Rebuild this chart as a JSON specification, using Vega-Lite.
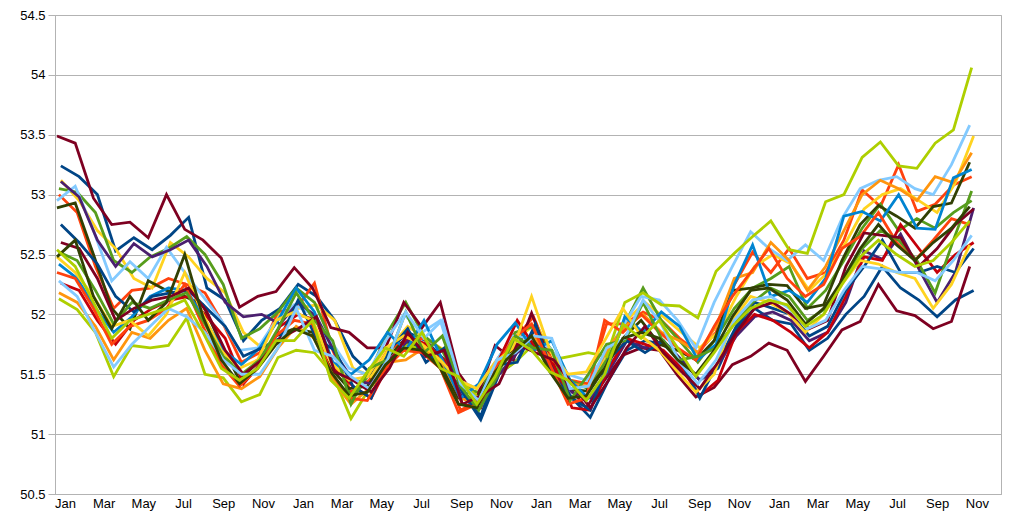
{
  "$schema": "https://vega.github.io/schema/vega-lite/v6.json",
  "width": 946,
  "height": 479,
  "autosize": {"type": "none"},
  "padding": {"left": 55, "top": 15, "right": 24, "bottom": 31},
  "background": "white",
  "config": {"view": {"stroke": "#b3b3b3", "strokeWidth": 1}, "font": "Liberation Sans"},
  "data": {"values": [
{"s":"s01","t":9,"v":53.24},{"s":"s01","t":37,"v":53.15},{"s":"s01","t":65,"v":53.00},{"s":"s01","t":93,"v":52.53},{"s":"s01","t":121,"v":52.64},{"s":"s01","t":149,"v":52.54},{"s":"s01","t":177,"v":52.66},{"s":"s01","t":205,"v":52.81},{"s":"s01","t":233,"v":52.22},{"s":"s01","t":261,"v":52.12},{"s":"s01","t":289,"v":51.78},{"s":"s01","t":317,"v":51.95},{"s":"s01","t":345,"v":52.05},{"s":"s01","t":373,"v":52.25},{"s":"s01","t":401,"v":52.15},{"s":"s01","t":429,"v":51.95},{"s":"s01","t":457,"v":51.65},{"s":"s01","t":485,"v":51.50},{"s":"s01","t":513,"v":51.70},{"s":"s01","t":541,"v":51.85},{"s":"s01","t":569,"v":51.78},{"s":"s01","t":597,"v":51.62},{"s":"s01","t":625,"v":51.35},{"s":"s01","t":653,"v":51.12},{"s":"s01","t":681,"v":51.50},{"s":"s01","t":709,"v":51.62},{"s":"s01","t":737,"v":51.88},{"s":"s01","t":765,"v":51.55},{"s":"s01","t":793,"v":51.30},{"s":"s01","t":821,"v":51.14},{"s":"s01","t":849,"v":51.45},{"s":"s01","t":877,"v":51.70},{"s":"s01","t":905,"v":51.78},{"s":"s01","t":933,"v":51.75},{"s":"s01","t":961,"v":51.62},{"s":"s01","t":989,"v":51.45},{"s":"s01","t":1017,"v":51.55},{"s":"s01","t":1045,"v":51.88},{"s":"s01","t":1073,"v":52.05},{"s":"s01","t":1101,"v":51.95},{"s":"s01","t":1129,"v":51.92},{"s":"s01","t":1157,"v":51.70},{"s":"s01","t":1185,"v":51.80},{"s":"s01","t":1213,"v":52.00},{"s":"s01","t":1241,"v":52.15},{"s":"s01","t":1269,"v":52.40},{"s":"s01","t":1297,"v":52.22},{"s":"s01","t":1325,"v":52.12},{"s":"s01","t":1353,"v":51.98},{"s":"s01","t":1381,"v":52.12},{"s":"s01","t":1409,"v":52.20},
{"s":"s02","t":6,"v":53.00},{"s":"s02","t":34,"v":52.85},{"s":"s02","t":62,"v":52.40},{"s":"s02","t":90,"v":52.05},{"s":"s02","t":118,"v":52.20},{"s":"s02","t":146,"v":52.22},{"s":"s02","t":174,"v":52.30},{"s":"s02","t":202,"v":52.25},{"s":"s02","t":230,"v":52.18},{"s":"s02","t":258,"v":51.92},{"s":"s02","t":286,"v":51.60},{"s":"s02","t":314,"v":51.68},{"s":"s02","t":342,"v":52.02},{"s":"s02","t":370,"v":52.05},{"s":"s02","t":398,"v":52.26},{"s":"s02","t":426,"v":51.70},{"s":"s02","t":454,"v":51.35},{"s":"s02","t":482,"v":51.45},{"s":"s02","t":510,"v":51.70},{"s":"s02","t":538,"v":51.78},{"s":"s02","t":566,"v":51.80},{"s":"s02","t":594,"v":51.60},{"s":"s02","t":622,"v":51.20},{"s":"s02","t":650,"v":51.28},{"s":"s02","t":678,"v":51.62},{"s":"s02","t":706,"v":51.80},{"s":"s02","t":734,"v":51.98},{"s":"s02","t":762,"v":51.62},{"s":"s02","t":790,"v":51.45},{"s":"s02","t":818,"v":51.42},{"s":"s02","t":846,"v":51.92},{"s":"s02","t":874,"v":51.92},{"s":"s02","t":902,"v":52.02},{"s":"s02","t":930,"v":51.95},{"s":"s02","t":958,"v":51.80},{"s":"s02","t":986,"v":51.68},{"s":"s02","t":1014,"v":51.85},{"s":"s02","t":1042,"v":52.25},{"s":"s02","t":1070,"v":52.52},{"s":"s02","t":1098,"v":52.35},{"s":"s02","t":1126,"v":52.55},{"s":"s02","t":1154,"v":52.30},{"s":"s02","t":1182,"v":52.35},{"s":"s02","t":1210,"v":52.62},{"s":"s02","t":1238,"v":53.04},{"s":"s02","t":1266,"v":52.90},{"s":"s02","t":1294,"v":53.25},{"s":"s02","t":1322,"v":52.86},{"s":"s02","t":1350,"v":52.92},{"s":"s02","t":1378,"v":53.08},{"s":"s02","t":1406,"v":53.15},
{"s":"s03","t":9,"v":53.12},{"s":"s03","t":37,"v":52.95},{"s":"s03","t":65,"v":52.70},{"s":"s03","t":93,"v":52.55},{"s":"s03","t":121,"v":52.30},{"s":"s03","t":149,"v":52.22},{"s":"s03","t":177,"v":52.60},{"s":"s03","t":205,"v":52.48},{"s":"s03","t":233,"v":52.30},{"s":"s03","t":261,"v":52.18},{"s":"s03","t":289,"v":51.85},{"s":"s03","t":317,"v":51.72},{"s":"s03","t":345,"v":52.00},{"s":"s03","t":373,"v":52.05},{"s":"s03","t":401,"v":52.08},{"s":"s03","t":429,"v":51.95},{"s":"s03","t":457,"v":51.55},{"s":"s03","t":485,"v":51.48},{"s":"s03","t":513,"v":51.72},{"s":"s03","t":541,"v":51.90},{"s":"s03","t":569,"v":51.80},{"s":"s03","t":597,"v":51.70},{"s":"s03","t":625,"v":51.40},{"s":"s03","t":653,"v":51.32},{"s":"s03","t":681,"v":51.60},{"s":"s03","t":709,"v":51.80},{"s":"s03","t":737,"v":51.92},{"s":"s03","t":765,"v":51.65},{"s":"s03","t":793,"v":51.42},{"s":"s03","t":821,"v":51.38},{"s":"s03","t":849,"v":51.70},{"s":"s03","t":877,"v":51.95},{"s":"s03","t":905,"v":52.10},{"s":"s03","t":933,"v":51.98},{"s":"s03","t":961,"v":51.85},{"s":"s03","t":989,"v":51.72},{"s":"s03","t":1017,"v":51.85},{"s":"s03","t":1045,"v":52.15},{"s":"s03","t":1073,"v":52.40},{"s":"s03","t":1101,"v":52.50},{"s":"s03","t":1129,"v":52.42},{"s":"s03","t":1157,"v":52.20},{"s":"s03","t":1185,"v":52.35},{"s":"s03","t":1213,"v":52.60},{"s":"s03","t":1241,"v":52.88},{"s":"s03","t":1269,"v":53.00},{"s":"s03","t":1297,"v":53.05},{"s":"s03","t":1325,"v":52.95},{"s":"s03","t":1353,"v":52.85},{"s":"s03","t":1381,"v":53.10},{"s":"s03","t":1409,"v":53.49},
{"s":"s04","t":6,"v":53.05},{"s":"s04","t":34,"v":53.02},{"s":"s04","t":62,"v":52.85},{"s":"s04","t":90,"v":52.45},{"s":"s04","t":118,"v":52.35},{"s":"s04","t":146,"v":52.48},{"s":"s04","t":174,"v":52.55},{"s":"s04","t":202,"v":52.65},{"s":"s04","t":230,"v":52.50},{"s":"s04","t":258,"v":52.25},{"s":"s04","t":286,"v":51.80},{"s":"s04","t":314,"v":51.88},{"s":"s04","t":342,"v":52.02},{"s":"s04","t":370,"v":52.22},{"s":"s04","t":398,"v":52.10},{"s":"s04","t":426,"v":51.75},{"s":"s04","t":454,"v":51.30},{"s":"s04","t":482,"v":51.50},{"s":"s04","t":510,"v":51.85},{"s":"s04","t":538,"v":52.10},{"s":"s04","t":566,"v":51.82},{"s":"s04","t":594,"v":51.70},{"s":"s04","t":622,"v":51.38},{"s":"s04","t":650,"v":51.35},{"s":"s04","t":678,"v":51.62},{"s":"s04","t":706,"v":51.85},{"s":"s04","t":734,"v":51.90},{"s":"s04","t":762,"v":51.70},{"s":"s04","t":790,"v":51.45},{"s":"s04","t":818,"v":51.38},{"s":"s04","t":846,"v":51.62},{"s":"s04","t":874,"v":51.92},{"s":"s04","t":902,"v":52.22},{"s":"s04","t":930,"v":51.95},{"s":"s04","t":958,"v":51.78},{"s":"s04","t":986,"v":51.60},{"s":"s04","t":1014,"v":51.80},{"s":"s04","t":1042,"v":52.05},{"s":"s04","t":1070,"v":52.22},{"s":"s04","t":1098,"v":52.30},{"s":"s04","t":1126,"v":52.40},{"s":"s04","t":1154,"v":52.05},{"s":"s04","t":1182,"v":52.20},{"s":"s04","t":1210,"v":52.45},{"s":"s04","t":1238,"v":52.72},{"s":"s04","t":1266,"v":52.92},{"s":"s04","t":1294,"v":52.70},{"s":"s04","t":1322,"v":52.80},{"s":"s04","t":1350,"v":52.72},{"s":"s04","t":1378,"v":52.85},{"s":"s04","t":1406,"v":52.95},
{"s":"s05","t":3,"v":53.49},{"s":"s05","t":31,"v":53.43},{"s":"s05","t":59,"v":52.97},{"s":"s05","t":87,"v":52.75},{"s":"s05","t":115,"v":52.77},{"s":"s05","t":143,"v":52.64},{"s":"s05","t":171,"v":53.00},{"s":"s05","t":199,"v":52.71},{"s":"s05","t":227,"v":52.62},{"s":"s05","t":255,"v":52.47},{"s":"s05","t":283,"v":52.06},{"s":"s05","t":311,"v":52.15},{"s":"s05","t":339,"v":52.19},{"s":"s05","t":367,"v":52.39},{"s":"s05","t":395,"v":52.22},{"s":"s05","t":423,"v":51.89},{"s":"s05","t":451,"v":51.85},{"s":"s05","t":479,"v":51.72},{"s":"s05","t":507,"v":51.72},{"s":"s05","t":535,"v":52.10},{"s":"s05","t":563,"v":51.89},{"s":"s05","t":591,"v":52.10},{"s":"s05","t":619,"v":51.51},{"s":"s05","t":647,"v":51.30},{"s":"s05","t":675,"v":51.74},{"s":"s05","t":703,"v":51.62},{"s":"s05","t":731,"v":52.01},{"s":"s05","t":759,"v":51.62},{"s":"s05","t":787,"v":51.40},{"s":"s05","t":815,"v":51.22},{"s":"s05","t":843,"v":51.45},{"s":"s05","t":871,"v":51.66},{"s":"s05","t":899,"v":51.72},{"s":"s05","t":927,"v":51.70},{"s":"s05","t":955,"v":51.49},{"s":"s05","t":983,"v":51.31},{"s":"s05","t":1011,"v":51.39},{"s":"s05","t":1039,"v":51.58},{"s":"s05","t":1067,"v":51.65},{"s":"s05","t":1095,"v":51.76},{"s":"s05","t":1123,"v":51.70},{"s":"s05","t":1151,"v":51.44},{"s":"s05","t":1179,"v":51.65},{"s":"s05","t":1207,"v":51.87},{"s":"s05","t":1235,"v":51.94},{"s":"s05","t":1263,"v":52.25},{"s":"s05","t":1291,"v":52.03},{"s":"s05","t":1319,"v":51.99},{"s":"s05","t":1347,"v":51.88},{"s":"s05","t":1375,"v":51.94},{"s":"s05","t":1403,"v":52.40},
{"s":"s06","t":3,"v":52.95},{"s":"s06","t":31,"v":53.07},{"s":"s06","t":59,"v":52.70},{"s":"s06","t":87,"v":52.28},{"s":"s06","t":115,"v":52.44},{"s":"s06","t":143,"v":52.30},{"s":"s06","t":171,"v":52.56},{"s":"s06","t":199,"v":52.35},{"s":"s06","t":227,"v":52.15},{"s":"s06","t":255,"v":51.95},{"s":"s06","t":283,"v":51.70},{"s":"s06","t":311,"v":51.72},{"s":"s06","t":339,"v":51.95},{"s":"s06","t":367,"v":52.08},{"s":"s06","t":395,"v":52.00},{"s":"s06","t":423,"v":51.78},{"s":"s06","t":451,"v":51.55},{"s":"s06","t":479,"v":51.50},{"s":"s06","t":507,"v":51.78},{"s":"s06","t":535,"v":52.00},{"s":"s06","t":563,"v":51.85},{"s":"s06","t":591,"v":51.95},{"s":"s06","t":619,"v":51.45},{"s":"s06","t":647,"v":51.38},{"s":"s06","t":675,"v":51.60},{"s":"s06","t":703,"v":51.82},{"s":"s06","t":731,"v":51.80},{"s":"s06","t":759,"v":51.72},{"s":"s06","t":787,"v":51.50},{"s":"s06","t":815,"v":51.45},{"s":"s06","t":843,"v":51.65},{"s":"s06","t":871,"v":51.90},{"s":"s06","t":899,"v":52.15},{"s":"s06","t":927,"v":52.12},{"s":"s06","t":955,"v":51.95},{"s":"s06","t":983,"v":51.72},{"s":"s06","t":1011,"v":52.10},{"s":"s06","t":1039,"v":52.40},{"s":"s06","t":1067,"v":52.69},{"s":"s06","t":1095,"v":52.55},{"s":"s06","t":1123,"v":52.45},{"s":"s06","t":1151,"v":52.58},{"s":"s06","t":1179,"v":52.45},{"s":"s06","t":1207,"v":52.80},{"s":"s06","t":1235,"v":53.05},{"s":"s06","t":1263,"v":53.12},{"s":"s06","t":1291,"v":53.15},{"s":"s06","t":1319,"v":53.05},{"s":"s06","t":1347,"v":53.00},{"s":"s06","t":1375,"v":53.25},{"s":"s06","t":1403,"v":53.58},
{"s":"s07","t":3,"v":52.89},{"s":"s07","t":31,"v":52.93},{"s":"s07","t":59,"v":52.50},{"s":"s07","t":87,"v":52.05},{"s":"s07","t":115,"v":51.88},{"s":"s07","t":143,"v":52.28},{"s":"s07","t":171,"v":52.20},{"s":"s07","t":199,"v":52.15},{"s":"s07","t":227,"v":52.08},{"s":"s07","t":255,"v":51.75},{"s":"s07","t":283,"v":51.45},{"s":"s07","t":311,"v":51.60},{"s":"s07","t":339,"v":51.82},{"s":"s07","t":367,"v":51.88},{"s":"s07","t":395,"v":51.85},{"s":"s07","t":423,"v":51.55},{"s":"s07","t":451,"v":51.38},{"s":"s07","t":479,"v":51.40},{"s":"s07","t":507,"v":51.62},{"s":"s07","t":535,"v":51.78},{"s":"s07","t":563,"v":51.70},{"s":"s07","t":591,"v":51.58},{"s":"s07","t":619,"v":51.30},{"s":"s07","t":647,"v":51.30},{"s":"s07","t":675,"v":51.55},{"s":"s07","t":703,"v":51.70},{"s":"s07","t":731,"v":51.82},{"s":"s07","t":759,"v":51.55},{"s":"s07","t":787,"v":51.38},{"s":"s07","t":815,"v":51.36},{"s":"s07","t":843,"v":51.55},{"s":"s07","t":871,"v":51.80},{"s":"s07","t":899,"v":51.95},{"s":"s07","t":927,"v":51.75},{"s":"s07","t":955,"v":51.70},{"s":"s07","t":983,"v":51.62},{"s":"s07","t":1011,"v":51.78},{"s":"s07","t":1039,"v":52.20},{"s":"s07","t":1067,"v":52.22},{"s":"s07","t":1095,"v":52.25},{"s":"s07","t":1123,"v":52.24},{"s":"s07","t":1151,"v":52.05},{"s":"s07","t":1179,"v":52.08},{"s":"s07","t":1207,"v":52.45},{"s":"s07","t":1235,"v":52.75},{"s":"s07","t":1263,"v":52.91},{"s":"s07","t":1291,"v":52.82},{"s":"s07","t":1319,"v":52.72},{"s":"s07","t":1347,"v":52.90},{"s":"s07","t":1375,"v":52.93},{"s":"s07","t":1403,"v":53.27},
{"s":"s08","t":6,"v":52.13},{"s":"s08","t":34,"v":52.04},{"s":"s08","t":62,"v":51.85},{"s":"s08","t":90,"v":51.48},{"s":"s08","t":118,"v":51.74},{"s":"s08","t":146,"v":51.72},{"s":"s08","t":174,"v":51.74},{"s":"s08","t":202,"v":51.97},{"s":"s08","t":230,"v":51.50},{"s":"s08","t":258,"v":51.47},{"s":"s08","t":286,"v":51.27},{"s":"s08","t":314,"v":51.33},{"s":"s08","t":342,"v":51.64},{"s":"s08","t":370,"v":51.70},{"s":"s08","t":398,"v":51.68},{"s":"s08","t":426,"v":51.50},{"s":"s08","t":454,"v":51.13},{"s":"s08","t":482,"v":51.38},{"s":"s08","t":510,"v":51.55},{"s":"s08","t":538,"v":51.75},{"s":"s08","t":566,"v":51.70},{"s":"s08","t":594,"v":51.62},{"s":"s08","t":622,"v":51.45},{"s":"s08","t":650,"v":51.30},{"s":"s08","t":678,"v":51.50},{"s":"s08","t":706,"v":51.60},{"s":"s08","t":734,"v":51.75},{"s":"s08","t":762,"v":51.62},{"s":"s08","t":790,"v":51.65},{"s":"s08","t":818,"v":51.68},{"s":"s08","t":846,"v":51.65},{"s":"s08","t":874,"v":52.10},{"s":"s08","t":902,"v":52.18},{"s":"s08","t":930,"v":52.08},{"s":"s08","t":958,"v":52.07},{"s":"s08","t":986,"v":51.97},{"s":"s08","t":1014,"v":52.36},{"s":"s08","t":1042,"v":52.51},{"s":"s08","t":1070,"v":52.65},{"s":"s08","t":1098,"v":52.78},{"s":"s08","t":1126,"v":52.54},{"s":"s08","t":1154,"v":52.51},{"s":"s08","t":1182,"v":52.94},{"s":"s08","t":1210,"v":53.00},{"s":"s08","t":1238,"v":53.31},{"s":"s08","t":1266,"v":53.44},{"s":"s08","t":1294,"v":53.24},{"s":"s08","t":1322,"v":53.22},{"s":"s08","t":1350,"v":53.43},{"s":"s08","t":1378,"v":53.54},{"s":"s08","t":1406,"v":54.06},
{"s":"s09","t":9,"v":53.11},{"s":"s09","t":37,"v":52.98},{"s":"s09","t":65,"v":52.62},{"s":"s09","t":93,"v":52.40},{"s":"s09","t":121,"v":52.59},{"s":"s09","t":149,"v":52.48},{"s":"s09","t":177,"v":52.54},{"s":"s09","t":205,"v":52.62},{"s":"s09","t":233,"v":52.40},{"s":"s09","t":261,"v":52.10},{"s":"s09","t":289,"v":51.98},{"s":"s09","t":317,"v":52.00},{"s":"s09","t":345,"v":51.92},{"s":"s09","t":373,"v":52.10},{"s":"s09","t":401,"v":51.98},{"s":"s09","t":429,"v":51.68},{"s":"s09","t":457,"v":51.45},{"s":"s09","t":485,"v":51.42},{"s":"s09","t":513,"v":51.62},{"s":"s09","t":541,"v":51.78},{"s":"s09","t":569,"v":51.72},{"s":"s09","t":597,"v":51.60},{"s":"s09","t":625,"v":51.30},{"s":"s09","t":653,"v":51.25},{"s":"s09","t":681,"v":51.50},{"s":"s09","t":709,"v":51.68},{"s":"s09","t":737,"v":51.78},{"s":"s09","t":765,"v":51.52},{"s":"s09","t":793,"v":51.35},{"s":"s09","t":821,"v":51.30},{"s":"s09","t":849,"v":51.52},{"s":"s09","t":877,"v":51.78},{"s":"s09","t":905,"v":51.72},{"s":"s09","t":933,"v":51.78},{"s":"s09","t":961,"v":51.62},{"s":"s09","t":989,"v":51.45},{"s":"s09","t":1017,"v":51.58},{"s":"s09","t":1045,"v":51.82},{"s":"s09","t":1073,"v":51.98},{"s":"s09","t":1101,"v":52.02},{"s":"s09","t":1129,"v":51.95},{"s":"s09","t":1157,"v":51.78},{"s":"s09","t":1185,"v":51.85},{"s":"s09","t":1213,"v":52.10},{"s":"s09","t":1241,"v":52.53},{"s":"s09","t":1269,"v":52.46},{"s":"s09","t":1297,"v":52.67},{"s":"s09","t":1325,"v":52.38},{"s":"s09","t":1353,"v":52.10},{"s":"s09","t":1381,"v":52.35},{"s":"s09","t":1409,"v":52.89},
{"s":"s10","t":6,"v":52.18},{"s":"s10","t":34,"v":52.10},{"s":"s10","t":62,"v":51.90},{"s":"s10","t":90,"v":51.62},{"s":"s10","t":118,"v":51.85},{"s":"s10","t":146,"v":51.80},{"s":"s10","t":174,"v":51.95},{"s":"s10","t":202,"v":52.05},{"s":"s10","t":230,"v":51.70},{"s":"s10","t":258,"v":51.42},{"s":"s10","t":286,"v":51.38},{"s":"s10","t":314,"v":51.48},{"s":"s10","t":342,"v":51.72},{"s":"s10","t":370,"v":51.90},{"s":"s10","t":398,"v":51.80},{"s":"s10","t":426,"v":51.45},{"s":"s10","t":454,"v":51.25},{"s":"s10","t":482,"v":51.38},{"s":"s10","t":510,"v":51.60},{"s":"s10","t":538,"v":51.62},{"s":"s10","t":566,"v":51.72},{"s":"s10","t":594,"v":51.60},{"s":"s10","t":622,"v":51.30},{"s":"s10","t":650,"v":51.25},{"s":"s10","t":678,"v":51.55},{"s":"s10","t":706,"v":51.70},{"s":"s10","t":734,"v":51.82},{"s":"s10","t":762,"v":51.62},{"s":"s10","t":790,"v":51.42},{"s":"s10","t":818,"v":51.40},{"s":"s10","t":846,"v":51.70},{"s":"s10","t":874,"v":51.90},{"s":"s10","t":902,"v":52.00},{"s":"s10","t":930,"v":51.85},{"s":"s10","t":958,"v":51.78},{"s":"s10","t":986,"v":51.68},{"s":"s10","t":1014,"v":51.90},{"s":"s10","t":1042,"v":52.30},{"s":"s10","t":1070,"v":52.35},{"s":"s10","t":1098,"v":52.60},{"s":"s10","t":1126,"v":52.45},{"s":"s10","t":1154,"v":52.20},{"s":"s10","t":1182,"v":52.40},{"s":"s10","t":1210,"v":52.70},{"s":"s10","t":1238,"v":53.00},{"s":"s10","t":1266,"v":53.12},{"s":"s10","t":1294,"v":53.05},{"s":"s10","t":1322,"v":52.95},{"s":"s10","t":1350,"v":53.15},{"s":"s10","t":1378,"v":53.10},{"s":"s10","t":1406,"v":53.35},
{"s":"s11","t":9,"v":52.26},{"s":"s11","t":37,"v":52.20},{"s":"s11","t":65,"v":51.95},{"s":"s11","t":93,"v":51.75},{"s":"s11","t":121,"v":51.95},{"s":"s11","t":149,"v":52.05},{"s":"s11","t":177,"v":52.12},{"s":"s11","t":205,"v":52.15},{"s":"s11","t":233,"v":51.98},{"s":"s11","t":261,"v":51.80},{"s":"s11","t":289,"v":51.42},{"s":"s11","t":317,"v":51.60},{"s":"s11","t":345,"v":51.90},{"s":"s11","t":373,"v":52.00},{"s":"s11","t":401,"v":51.95},{"s":"s11","t":429,"v":51.55},{"s":"s11","t":457,"v":51.40},{"s":"s11","t":485,"v":51.30},{"s":"s11","t":513,"v":51.60},{"s":"s11","t":541,"v":51.82},{"s":"s11","t":569,"v":51.75},{"s":"s11","t":597,"v":51.62},{"s":"s11","t":625,"v":51.25},{"s":"s11","t":653,"v":51.22},{"s":"s11","t":681,"v":51.62},{"s":"s11","t":709,"v":51.95},{"s":"s11","t":737,"v":51.72},{"s":"s11","t":765,"v":51.58},{"s":"s11","t":793,"v":51.22},{"s":"s11","t":821,"v":51.20},{"s":"s11","t":849,"v":51.55},{"s":"s11","t":877,"v":51.80},{"s":"s11","t":905,"v":51.75},{"s":"s11","t":933,"v":51.70},{"s":"s11","t":961,"v":51.55},{"s":"s11","t":989,"v":51.32},{"s":"s11","t":1017,"v":51.45},{"s":"s11","t":1045,"v":51.85},{"s":"s11","t":1073,"v":52.00},{"s":"s11","t":1101,"v":51.95},{"s":"s11","t":1129,"v":51.85},{"s":"s11","t":1157,"v":51.72},{"s":"s11","t":1185,"v":51.85},{"s":"s11","t":1213,"v":52.15},{"s":"s11","t":1241,"v":52.48},{"s":"s11","t":1269,"v":52.45},{"s":"s11","t":1297,"v":52.75},{"s":"s11","t":1325,"v":52.55},{"s":"s11","t":1353,"v":52.35},{"s":"s11","t":1381,"v":52.50},{"s":"s11","t":1409,"v":52.60},
{"s":"s12","t":6,"v":52.42},{"s":"s12","t":34,"v":52.30},{"s":"s12","t":62,"v":52.05},{"s":"s12","t":90,"v":51.85},{"s":"s12","t":118,"v":51.98},{"s":"s12","t":146,"v":52.15},{"s":"s12","t":174,"v":52.22},{"s":"s12","t":202,"v":52.20},{"s":"s12","t":230,"v":51.95},{"s":"s12","t":258,"v":51.70},{"s":"s12","t":286,"v":51.58},{"s":"s12","t":314,"v":51.72},{"s":"s12","t":342,"v":51.95},{"s":"s12","t":370,"v":52.22},{"s":"s12","t":398,"v":52.02},{"s":"s12","t":426,"v":51.60},{"s":"s12","t":454,"v":51.50},{"s":"s12","t":482,"v":51.62},{"s":"s12","t":510,"v":51.85},{"s":"s12","t":538,"v":51.70},{"s":"s12","t":566,"v":51.95},{"s":"s12","t":594,"v":51.62},{"s":"s12","t":622,"v":51.30},{"s":"s12","t":650,"v":51.42},{"s":"s12","t":678,"v":51.75},{"s":"s12","t":706,"v":51.93},{"s":"s12","t":734,"v":51.70},{"s":"s12","t":762,"v":51.78},{"s":"s12","t":790,"v":51.45},{"s":"s12","t":818,"v":51.30},{"s":"s12","t":846,"v":51.52},{"s":"s12","t":874,"v":51.98},{"s":"s12","t":902,"v":51.85},{"s":"s12","t":930,"v":52.02},{"s":"s12","t":958,"v":51.90},{"s":"s12","t":986,"v":51.62},{"s":"s12","t":1014,"v":51.75},{"s":"s12","t":1042,"v":52.25},{"s":"s12","t":1070,"v":52.58},{"s":"s12","t":1098,"v":52.15},{"s":"s12","t":1126,"v":52.20},{"s":"s12","t":1154,"v":52.10},{"s":"s12","t":1182,"v":52.30},{"s":"s12","t":1210,"v":52.82},{"s":"s12","t":1238,"v":52.86},{"s":"s12","t":1266,"v":52.78},{"s":"s12","t":1294,"v":53.00},{"s":"s12","t":1322,"v":52.72},{"s":"s12","t":1350,"v":52.71},{"s":"s12","t":1378,"v":53.14},{"s":"s12","t":1406,"v":53.21},
{"s":"s13","t":9,"v":52.75},{"s":"s13","t":37,"v":52.60},{"s":"s13","t":65,"v":52.42},{"s":"s13","t":93,"v":52.15},{"s":"s13","t":121,"v":52.02},{"s":"s13","t":149,"v":52.15},{"s":"s13","t":177,"v":52.18},{"s":"s13","t":205,"v":52.20},{"s":"s13","t":233,"v":52.05},{"s":"s13","t":261,"v":51.90},{"s":"s13","t":289,"v":51.65},{"s":"s13","t":317,"v":51.72},{"s":"s13","t":345,"v":51.80},{"s":"s13","t":373,"v":52.12},{"s":"s13","t":401,"v":51.80},{"s":"s13","t":429,"v":51.70},{"s":"s13","t":457,"v":51.40},{"s":"s13","t":485,"v":51.30},{"s":"s13","t":513,"v":51.70},{"s":"s13","t":541,"v":51.88},{"s":"s13","t":569,"v":51.60},{"s":"s13","t":597,"v":51.72},{"s":"s13","t":625,"v":51.35},{"s":"s13","t":653,"v":51.15},{"s":"s13","t":681,"v":51.58},{"s":"s13","t":709,"v":51.60},{"s":"s13","t":737,"v":51.92},{"s":"s13","t":765,"v":51.48},{"s":"s13","t":793,"v":51.30},{"s":"s13","t":821,"v":51.20},{"s":"s13","t":849,"v":51.62},{"s":"s13","t":877,"v":51.78},{"s":"s13","t":905,"v":51.68},{"s":"s13","t":933,"v":51.78},{"s":"s13","t":961,"v":51.60},{"s":"s13","t":989,"v":51.30},{"s":"s13","t":1017,"v":51.60},{"s":"s13","t":1045,"v":51.90},{"s":"s13","t":1073,"v":52.10},{"s":"s13","t":1101,"v":52.05},{"s":"s13","t":1129,"v":52.00},{"s":"s13","t":1157,"v":51.82},{"s":"s13","t":1185,"v":51.90},{"s":"s13","t":1213,"v":52.20},{"s":"s13","t":1241,"v":52.40},{"s":"s13","t":1269,"v":52.62},{"s":"s13","t":1297,"v":52.35},{"s":"s13","t":1325,"v":52.35},{"s":"s13","t":1353,"v":52.40},{"s":"s13","t":1381,"v":52.35},{"s":"s13","t":1409,"v":52.55},
{"s":"s14","t":3,"v":52.35},{"s":"s14","t":31,"v":52.30},{"s":"s14","t":59,"v":52.05},{"s":"s14","t":87,"v":51.75},{"s":"s14","t":115,"v":51.90},{"s":"s14","t":143,"v":51.95},{"s":"s14","t":171,"v":52.05},{"s":"s14","t":199,"v":52.25},{"s":"s14","t":227,"v":51.90},{"s":"s14","t":255,"v":51.58},{"s":"s14","t":283,"v":51.40},{"s":"s14","t":311,"v":51.55},{"s":"s14","t":339,"v":51.82},{"s":"s14","t":367,"v":51.95},{"s":"s14","t":395,"v":51.92},{"s":"s14","t":423,"v":51.52},{"s":"s14","t":451,"v":51.30},{"s":"s14","t":479,"v":51.28},{"s":"s14","t":507,"v":51.55},{"s":"s14","t":535,"v":51.70},{"s":"s14","t":563,"v":51.68},{"s":"s14","t":591,"v":51.55},{"s":"s14","t":619,"v":51.18},{"s":"s14","t":647,"v":51.25},{"s":"s14","t":675,"v":51.55},{"s":"s14","t":703,"v":51.80},{"s":"s14","t":731,"v":51.92},{"s":"s14","t":759,"v":51.58},{"s":"s14","t":787,"v":51.25},{"s":"s14","t":815,"v":51.30},{"s":"s14","t":843,"v":51.95},{"s":"s14","t":871,"v":51.85},{"s":"s14","t":899,"v":52.00},{"s":"s14","t":927,"v":51.85},{"s":"s14","t":955,"v":51.72},{"s":"s14","t":983,"v":51.62},{"s":"s14","t":1011,"v":51.90},{"s":"s14","t":1039,"v":52.15},{"s":"s14","t":1067,"v":52.35},{"s":"s14","t":1095,"v":52.55},{"s":"s14","t":1123,"v":52.30},{"s":"s14","t":1151,"v":52.15},{"s":"s14","t":1179,"v":52.25},{"s":"s14","t":1207,"v":52.55},{"s":"s14","t":1235,"v":52.65},{"s":"s14","t":1263,"v":52.85},{"s":"s14","t":1291,"v":52.60},{"s":"s14","t":1319,"v":52.45},{"s":"s14","t":1347,"v":52.62},{"s":"s14","t":1375,"v":52.80},{"s":"s14","t":1403,"v":52.75},
{"s":"s15","t":3,"v":52.48},{"s":"s15","t":31,"v":52.35},{"s":"s15","t":59,"v":52.15},{"s":"s15","t":87,"v":51.90},{"s":"s15","t":115,"v":51.95},{"s":"s15","t":143,"v":51.82},{"s":"s15","t":171,"v":52.00},{"s":"s15","t":199,"v":52.35},{"s":"s15","t":227,"v":52.00},{"s":"s15","t":255,"v":51.70},{"s":"s15","t":283,"v":51.55},{"s":"s15","t":311,"v":51.62},{"s":"s15","t":339,"v":51.95},{"s":"s15","t":367,"v":52.02},{"s":"s15","t":395,"v":51.95},{"s":"s15","t":423,"v":51.60},{"s":"s15","t":451,"v":51.45},{"s":"s15","t":479,"v":51.48},{"s":"s15","t":507,"v":51.72},{"s":"s15","t":535,"v":51.82},{"s":"s15","t":563,"v":51.75},{"s":"s15","t":591,"v":51.62},{"s":"s15","t":619,"v":51.45},{"s":"s15","t":647,"v":51.38},{"s":"s15","t":675,"v":51.60},{"s":"s15","t":703,"v":51.72},{"s":"s15","t":731,"v":52.15},{"s":"s15","t":759,"v":51.70},{"s":"s15","t":787,"v":51.50},{"s":"s15","t":815,"v":51.52},{"s":"s15","t":843,"v":51.78},{"s":"s15","t":871,"v":52.05},{"s":"s15","t":899,"v":51.82},{"s":"s15","t":927,"v":51.70},{"s":"s15","t":955,"v":51.52},{"s":"s15","t":983,"v":51.35},{"s":"s15","t":1011,"v":51.50},{"s":"s15","t":1039,"v":51.95},{"s":"s15","t":1067,"v":52.15},{"s":"s15","t":1095,"v":52.10},{"s":"s15","t":1123,"v":52.02},{"s":"s15","t":1151,"v":51.85},{"s":"s15","t":1179,"v":52.00},{"s":"s15","t":1207,"v":52.25},{"s":"s15","t":1235,"v":52.45},{"s":"s15","t":1263,"v":52.42},{"s":"s15","t":1291,"v":52.35},{"s":"s15","t":1319,"v":52.30},{"s":"s15","t":1347,"v":52.05},{"s":"s15","t":1375,"v":52.25},{"s":"s15","t":1403,"v":52.58},
{"s":"s16","t":6,"v":52.52},{"s":"s16","t":34,"v":52.45},{"s":"s16","t":62,"v":52.20},{"s":"s16","t":90,"v":51.92},{"s":"s16","t":118,"v":52.10},{"s":"s16","t":146,"v":52.05},{"s":"s16","t":174,"v":52.12},{"s":"s16","t":202,"v":52.18},{"s":"s16","t":230,"v":51.92},{"s":"s16","t":258,"v":51.65},{"s":"s16","t":286,"v":51.50},{"s":"s16","t":314,"v":51.62},{"s":"s16","t":342,"v":51.88},{"s":"s16","t":370,"v":52.18},{"s":"s16","t":398,"v":51.95},{"s":"s16","t":426,"v":51.78},{"s":"s16","t":454,"v":51.25},{"s":"s16","t":482,"v":51.55},{"s":"s16","t":510,"v":51.62},{"s":"s16","t":538,"v":52.02},{"s":"s16","t":566,"v":51.68},{"s":"s16","t":594,"v":51.82},{"s":"s16","t":622,"v":51.40},{"s":"s16","t":650,"v":51.20},{"s":"s16","t":678,"v":51.48},{"s":"s16","t":706,"v":51.82},{"s":"s16","t":734,"v":51.72},{"s":"s16","t":762,"v":51.70},{"s":"s16","t":790,"v":51.28},{"s":"s16","t":818,"v":51.50},{"s":"s16","t":846,"v":51.75},{"s":"s16","t":874,"v":51.78},{"s":"s16","t":902,"v":52.10},{"s":"s16","t":930,"v":51.80},{"s":"s16","t":958,"v":51.62},{"s":"s16","t":986,"v":51.65},{"s":"s16","t":1014,"v":51.72},{"s":"s16","t":1042,"v":51.92},{"s":"s16","t":1070,"v":52.10},{"s":"s16","t":1098,"v":52.22},{"s":"s16","t":1126,"v":52.15},{"s":"s16","t":1154,"v":51.95},{"s":"s16","t":1182,"v":52.05},{"s":"s16","t":1210,"v":52.30},{"s":"s16","t":1238,"v":52.55},{"s":"s16","t":1266,"v":52.70},{"s":"s16","t":1294,"v":52.62},{"s":"s16","t":1322,"v":52.45},{"s":"s16","t":1350,"v":52.18},{"s":"s16","t":1378,"v":52.62},{"s":"s16","t":1406,"v":53.03},
{"s":"s17","t":9,"v":52.60},{"s":"s17","t":37,"v":52.55},{"s":"s17","t":65,"v":52.30},{"s":"s17","t":93,"v":51.95},{"s":"s17","t":121,"v":52.05},{"s":"s17","t":149,"v":52.12},{"s":"s17","t":177,"v":52.15},{"s":"s17","t":205,"v":52.22},{"s":"s17","t":233,"v":52.02},{"s":"s17","t":261,"v":51.70},{"s":"s17","t":289,"v":51.50},{"s":"s17","t":317,"v":51.62},{"s":"s17","t":345,"v":51.80},{"s":"s17","t":373,"v":51.88},{"s":"s17","t":401,"v":51.98},{"s":"s17","t":429,"v":51.52},{"s":"s17","t":457,"v":51.45},{"s":"s17","t":485,"v":51.35},{"s":"s17","t":513,"v":51.55},{"s":"s17","t":541,"v":51.85},{"s":"s17","t":569,"v":51.65},{"s":"s17","t":597,"v":51.70},{"s":"s17","t":625,"v":51.25},{"s":"s17","t":653,"v":51.32},{"s":"s17","t":681,"v":51.42},{"s":"s17","t":709,"v":51.75},{"s":"s17","t":737,"v":51.68},{"s":"s17","t":765,"v":51.62},{"s":"s17","t":793,"v":51.42},{"s":"s17","t":821,"v":51.22},{"s":"s17","t":849,"v":51.45},{"s":"s17","t":877,"v":51.72},{"s":"s17","t":905,"v":51.90},{"s":"s17","t":933,"v":51.68},{"s":"s17","t":961,"v":51.52},{"s":"s17","t":989,"v":51.38},{"s":"s17","t":1017,"v":51.60},{"s":"s17","t":1045,"v":51.85},{"s":"s17","t":1073,"v":52.05},{"s":"s17","t":1101,"v":52.10},{"s":"s17","t":1129,"v":52.00},{"s":"s17","t":1157,"v":51.88},{"s":"s17","t":1185,"v":51.95},{"s":"s17","t":1213,"v":52.40},{"s":"s17","t":1241,"v":52.68},{"s":"s17","t":1269,"v":52.66},{"s":"s17","t":1297,"v":52.64},{"s":"s17","t":1325,"v":52.40},{"s":"s17","t":1353,"v":52.55},{"s":"s17","t":1381,"v":52.75},{"s":"s17","t":1409,"v":52.88},
{"s":"s18","t":6,"v":52.28},{"s":"s18","t":34,"v":52.15},{"s":"s18","t":62,"v":51.85},{"s":"s18","t":90,"v":51.56},{"s":"s18","t":118,"v":51.75},{"s":"s18","t":146,"v":51.90},{"s":"s18","t":174,"v":52.05},{"s":"s18","t":202,"v":51.98},{"s":"s18","t":230,"v":51.85},{"s":"s18","t":258,"v":51.62},{"s":"s18","t":286,"v":51.50},{"s":"s18","t":314,"v":51.50},{"s":"s18","t":342,"v":51.72},{"s":"s18","t":370,"v":52.05},{"s":"s18","t":398,"v":51.70},{"s":"s18","t":426,"v":51.65},{"s":"s18","t":454,"v":51.48},{"s":"s18","t":482,"v":51.38},{"s":"s18","t":510,"v":51.62},{"s":"s18","t":538,"v":52.02},{"s":"s18","t":566,"v":51.80},{"s":"s18","t":594,"v":51.95},{"s":"s18","t":622,"v":51.42},{"s":"s18","t":650,"v":51.28},{"s":"s18","t":678,"v":51.62},{"s":"s18","t":706,"v":51.68},{"s":"s18","t":734,"v":51.82},{"s":"s18","t":762,"v":51.80},{"s":"s18","t":790,"v":51.38},{"s":"s18","t":818,"v":51.40},{"s":"s18","t":846,"v":51.72},{"s":"s18","t":874,"v":51.80},{"s":"s18","t":902,"v":52.12},{"s":"s18","t":930,"v":51.92},{"s":"s18","t":958,"v":51.60},{"s":"s18","t":986,"v":51.42},{"s":"s18","t":1014,"v":51.62},{"s":"s18","t":1042,"v":51.95},{"s":"s18","t":1070,"v":52.12},{"s":"s18","t":1098,"v":52.15},{"s":"s18","t":1126,"v":52.05},{"s":"s18","t":1154,"v":51.88},{"s":"s18","t":1182,"v":51.95},{"s":"s18","t":1210,"v":52.20},{"s":"s18","t":1238,"v":52.40},{"s":"s18","t":1266,"v":52.38},{"s":"s18","t":1294,"v":52.35},{"s":"s18","t":1322,"v":52.35},{"s":"s18","t":1350,"v":52.28},{"s":"s18","t":1378,"v":52.45},{"s":"s18","t":1406,"v":52.66},
{"s":"s19","t":3,"v":52.48},{"s":"s19","t":31,"v":52.62},{"s":"s19","t":59,"v":52.15},{"s":"s19","t":87,"v":51.88},{"s":"s19","t":115,"v":52.15},{"s":"s19","t":143,"v":51.95},{"s":"s19","t":171,"v":52.10},{"s":"s19","t":199,"v":52.50},{"s":"s19","t":227,"v":51.98},{"s":"s19","t":255,"v":51.62},{"s":"s19","t":283,"v":51.42},{"s":"s19","t":311,"v":51.55},{"s":"s19","t":339,"v":51.75},{"s":"s19","t":367,"v":51.88},{"s":"s19","t":395,"v":51.82},{"s":"s19","t":423,"v":51.52},{"s":"s19","t":451,"v":51.32},{"s":"s19","t":479,"v":51.35},{"s":"s19","t":507,"v":51.58},{"s":"s19","t":535,"v":51.72},{"s":"s19","t":563,"v":51.70},{"s":"s19","t":591,"v":51.55},{"s":"s19","t":619,"v":51.25},{"s":"s19","t":647,"v":51.22},{"s":"s19","t":675,"v":51.52},{"s":"s19","t":703,"v":51.68},{"s":"s19","t":731,"v":51.82},{"s":"s19","t":759,"v":51.52},{"s":"s19","t":787,"v":51.30},{"s":"s19","t":815,"v":51.32},{"s":"s19","t":843,"v":51.55},{"s":"s19","t":871,"v":51.80},{"s":"s19","t":899,"v":51.85},{"s":"s19","t":927,"v":51.80},{"s":"s19","t":955,"v":51.62},{"s":"s19","t":983,"v":51.50},{"s":"s19","t":1011,"v":51.70},{"s":"s19","t":1039,"v":51.98},{"s":"s19","t":1067,"v":52.20},{"s":"s19","t":1095,"v":52.22},{"s":"s19","t":1123,"v":52.12},{"s":"s19","t":1151,"v":51.92},{"s":"s19","t":1179,"v":52.05},{"s":"s19","t":1207,"v":52.28},{"s":"s19","t":1235,"v":52.55},{"s":"s19","t":1263,"v":52.75},{"s":"s19","t":1291,"v":52.58},{"s":"s19","t":1319,"v":52.45},{"s":"s19","t":1347,"v":52.60},{"s":"s19","t":1375,"v":52.72},{"s":"s19","t":1403,"v":52.90},
{"s":"s20","t":3,"v":52.54},{"s":"s20","t":31,"v":52.40},{"s":"s20","t":59,"v":52.10},{"s":"s20","t":87,"v":51.80},{"s":"s20","t":115,"v":51.95},{"s":"s20","t":143,"v":52.00},{"s":"s20","t":171,"v":52.05},{"s":"s20","t":199,"v":52.12},{"s":"s20","t":227,"v":51.85},{"s":"s20","t":255,"v":51.55},{"s":"s20","t":283,"v":51.45},{"s":"s20","t":311,"v":51.55},{"s":"s20","t":339,"v":51.78},{"s":"s20","t":367,"v":51.78},{"s":"s20","t":395,"v":51.95},{"s":"s20","t":423,"v":51.45},{"s":"s20","t":451,"v":51.30},{"s":"s20","t":479,"v":51.52},{"s":"s20","t":507,"v":51.72},{"s":"s20","t":535,"v":51.65},{"s":"s20","t":563,"v":51.85},{"s":"s20","t":591,"v":51.55},{"s":"s20","t":619,"v":51.48},{"s":"s20","t":647,"v":51.25},{"s":"s20","t":675,"v":51.48},{"s":"s20","t":703,"v":51.80},{"s":"s20","t":731,"v":51.70},{"s":"s20","t":759,"v":51.52},{"s":"s20","t":787,"v":51.45},{"s":"s20","t":815,"v":51.28},{"s":"s20","t":843,"v":51.50},{"s":"s20","t":871,"v":51.92},{"s":"s20","t":899,"v":51.80},{"s":"s20","t":927,"v":51.95},{"s":"s20","t":955,"v":51.72},{"s":"s20","t":983,"v":51.48},{"s":"s20","t":1011,"v":51.68},{"s":"s20","t":1039,"v":51.90},{"s":"s20","t":1067,"v":52.05},{"s":"s20","t":1095,"v":52.12},{"s":"s20","t":1123,"v":52.08},{"s":"s20","t":1151,"v":51.90},{"s":"s20","t":1179,"v":52.00},{"s":"s20","t":1207,"v":52.25},{"s":"s20","t":1235,"v":52.48},{"s":"s20","t":1263,"v":52.62},{"s":"s20","t":1291,"v":52.50},{"s":"s20","t":1319,"v":52.40},{"s":"s20","t":1347,"v":52.45},{"s":"s20","t":1375,"v":52.60},{"s":"s20","t":1403,"v":52.78}
  ]},
  "mark": {"type": "line", "strokeWidth": 2.8, "clip": true},
  "encoding": {
    "x": {
      "field": "t",
      "type": "quantitative",
      "scale": {"domain": [0, 1451], "nice": false, "zero": false},
      "axis": {
        "title": null,
        "values": [15.5, 74.5, 135.5, 196.5, 258, 319, 380.5, 439.5, 500.5, 561.5, 623, 684, 745.5, 804.5, 865.5, 926.5, 988, 1049, 1110.5, 1169.5, 1230.5, 1291.5, 1353, 1414],
        "labelExpr": "['Jan','Mar','May','Jul','Sep','Nov'][indexof([15.5,74.5,135.5,196.5,258,319], datum.value % 365)]",
        "grid": false,
        "ticks": false,
        "domainColor": "#b3b3b3",
        "labelFont": "Liberation Sans",
        "labelFontSize": 13,
        "labelColor": "#000000",
        "labelPadding": 3,
        "labelFlush": false,
        "labelOverlap": false
      }
    },
    "y": {
      "field": "v",
      "type": "quantitative",
      "scale": {"domain": [50.5, 54.5], "nice": false, "zero": false},
      "axis": {
        "title": null,
        "values": [50.5, 51, 51.5, 52, 52.5, 53, 53.5, 54, 54.5],
        "format": ".1~f",
        "grid": true,
        "gridColor": "#b3b3b3",
        "tickColor": "#b3b3b3",
        "tickSize": 7,
        "domainColor": "#b3b3b3",
        "labelFont": "Liberation Sans",
        "labelFontSize": 13,
        "labelColor": "#000000",
        "labelPadding": 3,
        "labelFlush": false
      }
    },
    "color": {
      "field": "s",
      "type": "nominal",
      "scale": {
        "domain": ["s01","s02","s03","s04","s05","s06","s07","s08","s09","s10","s11","s12","s13","s14","s15","s16","s17","s18","s19","s20"],
        "range": ["#004586","#ff420e","#ffd320","#579d1c","#7e0021","#83caff","#314004","#aecf00","#4b1f6f","#ff950e","#c5000b","#0084d1","#004586","#ff420e","#ffd320","#579d1c","#7e0021","#83caff","#314004","#aecf00"]
      },
      "legend": null
    }
  }
}
